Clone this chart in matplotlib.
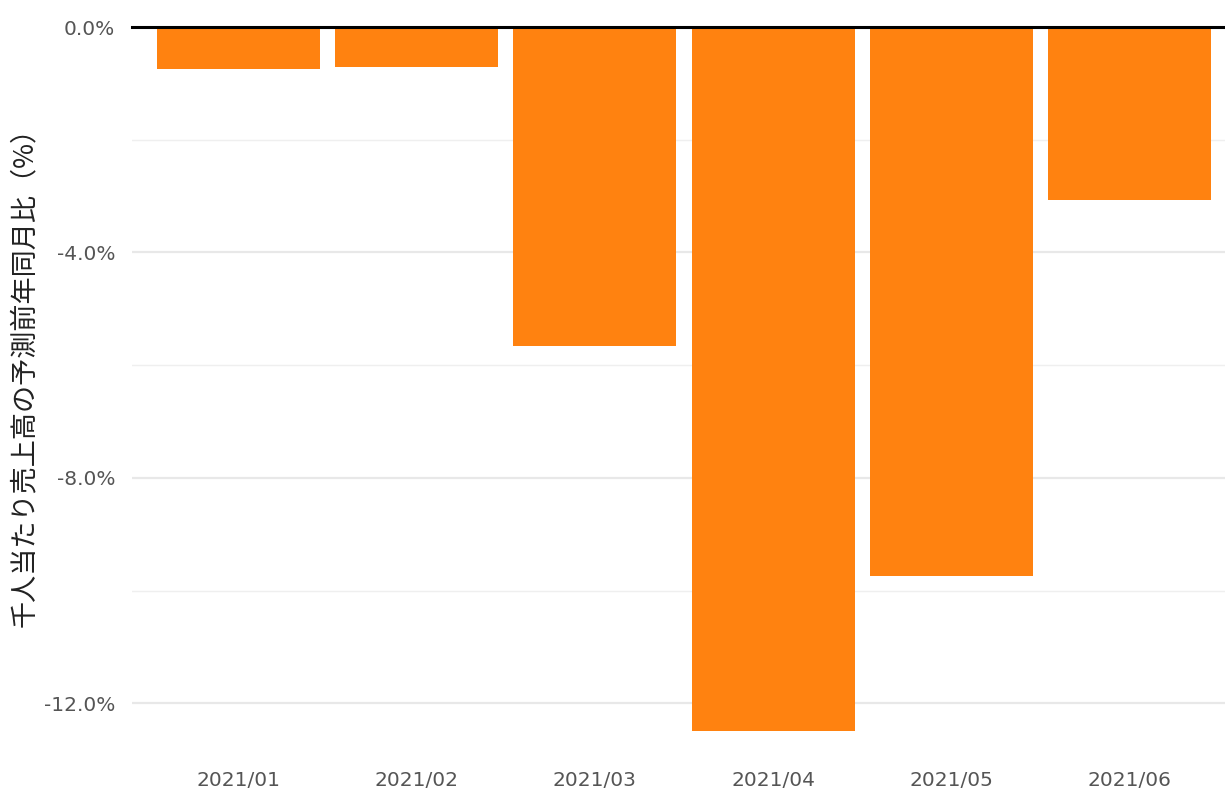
import matplotlib
matplotlib.use("Agg")
import matplotlib.pyplot as plt
import numpy as np

months = ["2021/01", "2021/02", "2021/03", "2021/04", "2021/05", "2021/06"]
values = [-0.74, -0.71, -5.66, -12.49, -9.74, -3.07]
ylabel = "千人当たり売上高の予測前年同月比（%）"

plt.rcParams['font.family'] = ['Noto Sans CJK JP', 'DejaVu Sans']

fig = plt.figure(figsize=(12.25, 7.92), dpi=100)
ax = fig.add_axes([132/1225, 0.048, 1 - 132/1225, 0.9659 - 0.048])

x = np.arange(len(months))
ax.bar(x, values, width=0.915, color="#ff8210", zorder=3)

ax.set_xlim(-0.598, 5.536)
ax.set_ylim(-12.9, 0)

ax.set_yticks([-12, -8, -4, 0])
ax.set_yticklabels([f"{v:.1f}%" for v in [-12, -8, -4, 0]])
for v in [-12, -8, -4]:
    ax.axhline(v, color="#e8e8e8", lw=1.6, zorder=1)
for v in [-10, -6, -2]:
    ax.axhline(v, color="#efefef", lw=1.0, zorder=1)
ax.axhline(0, color="black", lw=2.2, zorder=4, clip_on=False)

ax.set_xticks(x)
ax.set_xticklabels(months)
ax.tick_params(axis="both", length=0, labelsize=14.5, labelcolor="#555555")
ax.tick_params(axis="x", pad=12)
ax.tick_params(axis="y", pad=12)
for lab in ax.get_xticklabels() + ax.get_yticklabels():
    lab.set_family(['DejaVu Sans'])

for s in ax.spines.values():
    s.set_visible(False)

fig.text(25/1225, 1 - 370/792, ylabel, rotation=90, ha="center", va="center",
         fontsize=19.5, color="#222222")

fig.savefig("out.png", dpi=100)
